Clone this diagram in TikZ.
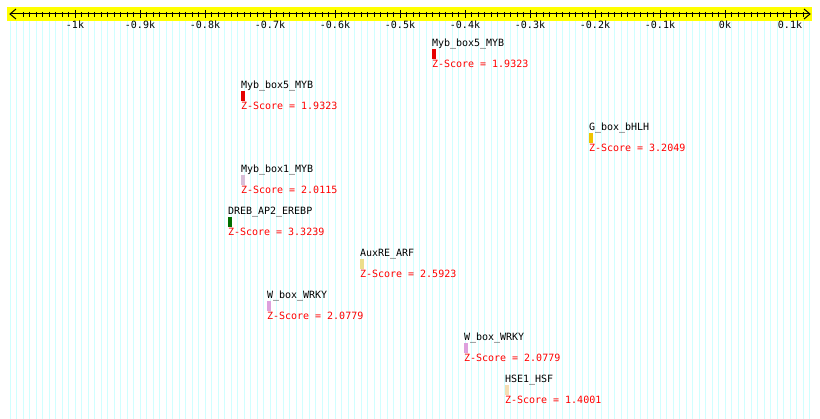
\documentclass[tikz,border=0pt]{standalone}
\usepackage{fontspec}
\setmonofont{DejaVu Sans Mono}
\definecolor{gridc}{RGB}{208,255,255}
\definecolor{axisyellow}{RGB}{255,255,0}
\definecolor{zred}{RGB}{255,0,0}
\definecolor{cmyb5}{RGB}{230,0,0}
\definecolor{cgbox}{RGB}{240,196,0}
\definecolor{cmyb1}{RGB}{216,191,216}
\definecolor{cdreb}{RGB}{0,112,0}
\definecolor{caux}{RGB}{236,222,140}
\definecolor{cwbox}{RGB}{221,160,221}
\definecolor{chse}{RGB}{245,222,179}
\begin{document}
\begin{tikzpicture}[x=1pt,y=-1pt,
  txt/.style={inner sep=0pt,outer sep=0pt,font=\ttfamily\fontsize{10}{12}\selectfont},
  fname/.style={txt,anchor=base west,text=black},
  zscore/.style={txt,anchor=base west,text=zred},
  ticklab/.style={txt,anchor=base,text=black},
  sitebar/.style={draw=none,inner sep=0pt,outer sep=0pt,minimum width=4pt,minimum height=10pt,anchor=north west},
  gridline/.style={gridc,line width=1pt},
  axisline/.style={black,line width=1pt}]
\useasboundingbox (0,0) rectangle (820,419);
\fill[white] (0,0) rectangle (820,419);
% grid
\foreach \i in {-110,...,13}
  \draw[gridline] ({725+6.5*\i},21) -- ({725+6.5*\i},419);
% axis band
\fill[axisyellow] (7,7) rectangle (812,21);
\coordinate (axL) at (10,14);
\coordinate (axR) at (810,14);
\draw[axisline] (axL) -- (axR);
\draw[axisline] (16,9) -- (axL) -- (16,19);
\draw[axisline] (804,9) -- (axR) -- (804,19);
\foreach \i in {-108,...,12}
  \draw[axisline] ({725+6.5*\i},12) -- ({725+6.5*\i},17);
\foreach \k/\lab in {-10/-1k,-9/-0.9k,-8/-0.8k,-7/-0.7k,-6/-0.6k,-5/-0.5k,-4/-0.4k,-3/-0.3k,-2/-0.2k,-1/-0.1k,0/0k,1/0.1k}{
  \draw[axisline] ({725+65*\k},10) -- ({725+65*\k},18);
  \node[ticklab] (lab\k) at ({725+65*\k},29) {\lab};
}
% sites
\foreach \nm/\x/\r/\col/\name/\z in {
  s1/432/0/cmyb5/Myb\_box5\_MYB/1.9323,
  s2/241/1/cmyb5/Myb\_box5\_MYB/1.9323,
  s3/589/2/cgbox/G\_box\_bHLH/3.2049,
  s4/241/3/cmyb1/Myb\_box1\_MYB/2.0115,
  s5/228/4/cdreb/DREB\_AP2\_EREBP/3.3239,
  s6/360/5/caux/AuxRE\_ARF/2.5923,
  s7/267/6/cwbox/W\_box\_WRKY/2.0779,
  s8/464/7/cwbox/W\_box\_WRKY/2.0779,
  s9/505/8/chse/HSE1\_HSF/1.4001}{
  \pgfmathsetmacro{\bt}{49+42*\r}
  \node[sitebar,fill=\col] (\nm bar) at (\x,\bt) {};
  \node[fname] (\nm name) at (\x,\bt-2) {\name};
  \node[zscore] (\nm z) at (\x,\bt+19) {Z-Score = \z};
}
\end{tikzpicture}
\end{document}
